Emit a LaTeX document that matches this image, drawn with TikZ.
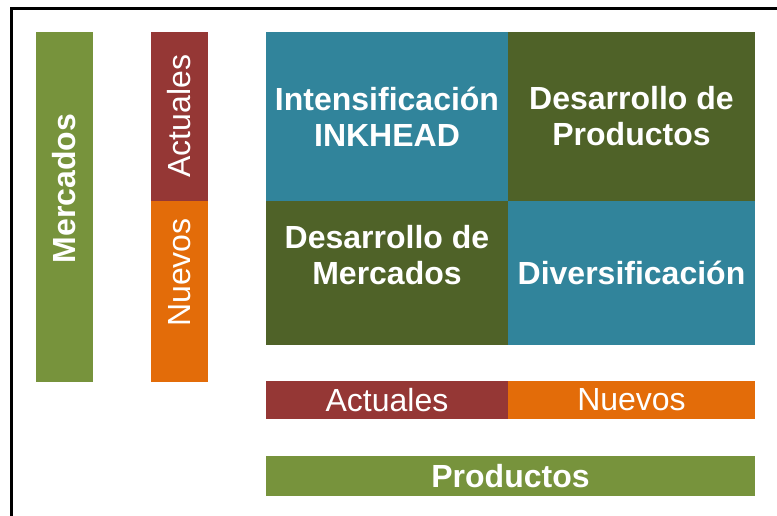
\documentclass[tikz,border=0pt]{standalone}
\usepackage{fontspec}
\setmainfont{Liberation Sans}
\definecolor{mgreen}{HTML}{77933C}
\definecolor{dgreen}{HTML}{4F6228}
\definecolor{mred}{HTML}{953735}
\definecolor{morange}{HTML}{E36C09}
\definecolor{mteal}{HTML}{31849B}
\begin{document}
\begin{tikzpicture}[x=1pt,y=-1pt,
  cellbox/.style={fill=#1, draw=none, inner sep=0pt, text=white, align=center,
    font=\fontsize{32}{36}\selectfont\bfseries},
  barbox/.style={fill=#1, draw=none, inner sep=0pt, text=white,
    font=\fontsize{32}{36}\selectfont},
  boldtext/.style={text=white, align=center, inner sep=0pt, font=\fontsize{32}{36}\selectfont\bfseries},
  plaintext/.style={text=white, align=center, inner sep=0pt, font=\fontsize{32}{36}\selectfont}]
\clip (0,0) rectangle (777,516);
\useasboundingbox (0,0) rectangle (777,516);
\fill[white] (0,0) rectangle (777,516);
\draw[line width=2.2pt, black] (11.5,8.5) rectangle (800,540);
% left bars
\node[cellbox=mgreen, minimum width=57pt, minimum height=350pt] (merc) at (64.5,207) {};
\node[rotate=90, boldtext] (merct) at (64.5,188.5) {Mercados};
\node[barbox=mred, minimum width=57pt, minimum height=169pt] (actv) at (179.5,116.5) {};
\node[rotate=90, plaintext] (actvt) at (179.5,116) {Actuales};
\node[barbox=morange, minimum width=57pt, minimum height=181pt] (nuev) at (179.5,291.5) {};
\node[rotate=90, plaintext] (nuevt) at (179.5,272.5) {Nuevos};
% matrix
\node[cellbox=mteal, minimum width=242pt, minimum height=169pt] (c11) at (387,116.5) {};
\node[cellbox=dgreen, minimum width=247pt, minimum height=169pt] (c12) at (631.5,116.5) {};
\node[cellbox=dgreen, minimum width=242pt, minimum height=144pt] (c21) at (387,273) {};
\node[cellbox=mteal, minimum width=247pt, minimum height=144pt] (c22) at (631.5,273) {};
\node[boldtext] (t11) at (c11.center) {Intensificación\\INKHEAD};
\node[boldtext] (t12) at (c12.center) {Desarrollo de\\Productos};
\node[boldtext] (t21) at (387,255) {Desarrollo de\\Mercados};
\node[boldtext] (t22) at (c22.center) {Diversificación};
% bottom bars
\node[barbox=mred, minimum width=242pt, minimum height=38pt] (pact) at (387,400) {Actuales};
\node[barbox=morange, minimum width=247pt, minimum height=38pt] (pnue) at (631.5,400) {Nuevos};
\node[cellbox=mgreen, minimum width=489pt, minimum height=40pt] (prod) at (510.5,476) {Productos};
\end{tikzpicture}
\end{document}
